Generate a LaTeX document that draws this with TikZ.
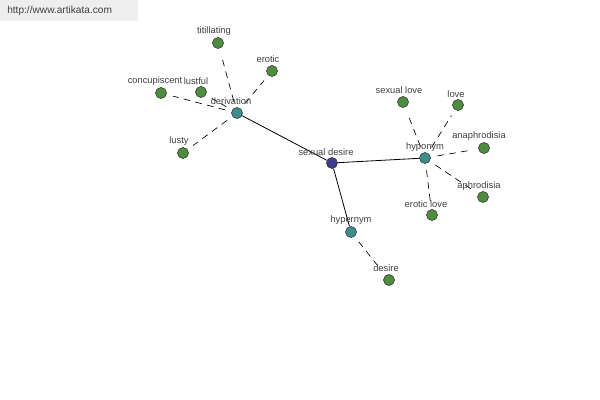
\documentclass[tikz,border=0pt]{standalone}
\usepackage{fontspec}
\setmainfont{Liberation Sans}
\begin{document}
\begin{tikzpicture}[x=0.75pt,y=-0.75pt,
  dot/.style={circle,draw=black!80,line width=0.4pt,minimum size=8.3pt,inner sep=0pt},
  leaf/.style={dot,fill=leafgreen},
  hub/.style={dot,fill=hubteal},
  root/.style={dot,fill=rootblue},
  lbl/.style={font=\fontsize{7}{8}\selectfont,text=black!75,inner sep=0pt},
  solidedge/.style={draw=black,line width=0.6pt},
  dashedge/.style={draw=black,line width=0.5pt,dashed,dash pattern=on 5pt off 4pt,shorten >=5pt,shorten <=5pt}]
\definecolor{leafgreen}{HTML}{4E8C3E}
\definecolor{hubteal}{HTML}{3F8C8C}
\definecolor{rootblue}{HTML}{3C3C8A}
\definecolor{wmbg}{HTML}{EEEEEE}
\useasboundingbox[fill=white] (0,0) rectangle (600,400);
\fill[wmbg] (0,0) rectangle (138,21);
\node[anchor=west,font=\fontsize{7.6}{9}\selectfont,text=black!75,inner sep=0pt] (wm) at (7,11) {http://www.artikata.com};

% nodes
\node[root] (sd) at (332,163) {};
\node[hub] (der) at (237,113) {};
\node[hub] (hypo) at (425,158) {};
\node[hub] (hyper) at (351,232) {};
\node[leaf] (desire) at (389,280) {};
\node[leaf] (titil) at (218,43) {};
\node[leaf] (erotic) at (272,71) {};
\node[leaf] (concup) at (161,93) {};
\node[leaf] (lustful) at (201,92) {};
\node[leaf] (lusty) at (183,153) {};
\node[leaf] (slove) at (403,102) {};
\node[leaf] (love) at (458,105) {};
\node[leaf] (anaph) at (484,148) {};
\node[leaf] (aphr) at (483,197) {};
\node[leaf] (elove) at (432,215) {};

% edges
\draw[solidedge] (sd) -- (der);
\draw[solidedge] (sd) -- (hypo);
\draw[solidedge] (sd) -- (hyper);
\draw[dashedge] (der) -- (titil);
\draw[dashedge] (der) -- (erotic);
\draw[dashedge] (der) -- (concup);
\draw[dashedge] (der) -- (lustful);
\draw[dashedge] (der) -- (lusty);
\draw[dashedge] (hypo) -- (slove);
\draw[dashedge] (hypo) -- (love);
\draw[dashedge] (hypo) -- (anaph);
\draw[dashedge] (hypo) -- (aphr);
\draw[dashedge] (hypo) -- (elove);
\draw[dashedge] (hyper) -- (desire);

% labels
\node[lbl] (lsd) at (326,152) {sexual desire};
\node[lbl] (lder) at (231,101) {derivation};
\node[lbl] (lhypo) at (425,147) {hyponym};
\node[lbl] (lhyper) at (351,220) {hypernym};
\node[lbl] (ldesire) at (386,268) {desire};
\node[lbl] (ltitil) at (214,31) {titillating};
\node[lbl] (lerotic) at (268,59) {erotic};
\node[lbl] (lconcup) at (155,81) {concupiscent};
\node[lbl] (llustful) at (196,81) {lustful};
\node[lbl] (llusty) at (179,141) {lusty};
\node[lbl] (lslove) at (399,90) {sexual love};
\node[lbl] (llove) at (456,94) {love};
\node[lbl] (lanaph) at (479,136) {anaphrodisia};
\node[lbl] (laphr) at (479,186) {aphrodisia};
\node[lbl] (lelove) at (426,204) {erotic love};
\end{tikzpicture}
\end{document}
